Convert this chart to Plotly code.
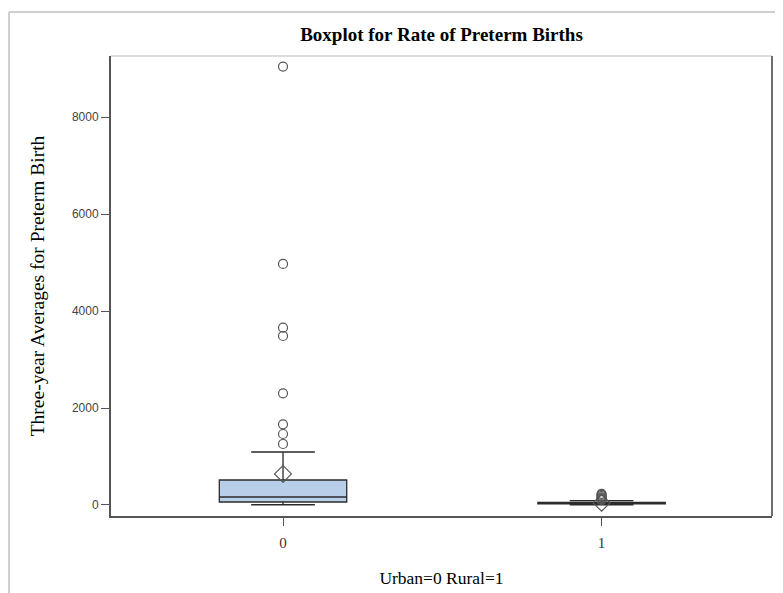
import plotly.graph_objects as go

# ---- data ----
groups = [0, 1]
q1 = [62, 22]
median = [165, 35]
q3 = [515, 52]
lower_whisker = [5, 4]
upper_whisker = [1093, 92]
means = [640, 45]
outliers_urban = [9040, 4970, 3656, 3485, 2303, 1664, 1464, 1258]
outliers_rural = [100, 120, 140, 160, 185, 210, 230]
tick_vals_y = [0, 2000, 4000, 6000, 8000]

SERIF = "Liberation Serif, Times New Roman, serif"
SANS = "Liberation Sans, Arial, sans-serif"

# The page body has an 8px default margin; work in page pixels and shift.
OFF = 8
FW, FH = 783 - OFF, 593 - OFF

fig = go.Figure()

fig.add_trace(go.Box(
    x=groups, q1=q1, median=median, q3=q3,
    lowerfence=lower_whisker, upperfence=upper_whisker,
    width=0.4, whiskerwidth=0.5,
    fillcolor="#B8CFEA",
    line=dict(color="#2b2b2b", width=1.3),
    boxpoints=False, hoverinfo="skip", showlegend=False,
))

fig.add_trace(go.Scatter(
    x=[0] * len(outliers_urban) + [1] * len(outliers_rural),
    y=outliers_urban + outliers_rural,
    mode="markers",
    marker=dict(symbol="circle-open", size=9, color="#555555", line=dict(width=1.2)),
    showlegend=False, hoverinfo="skip",
))

fig.add_trace(go.Scatter(
    x=groups, y=means, mode="markers",
    marker=dict(symbol="diamond-open", size=13, color="#555555", line=dict(width=1.2)),
    showlegend=False, hoverinfo="skip",
))

# plot-area geometry in page pixels
L, R, T, B = 111, 772, 56, 516
W, H = R - L, B - T
def px(x): return (x - L) / W
def py(y): return (B - y) / H

shapes = [
    dict(type="line", xref="paper", yref="paper", x0=px(9), x1=px(800), y0=py(12), y1=py(12),
         line=dict(color="#cfcfcf", width=2)),
    dict(type="line", xref="paper", yref="paper", x0=px(9), x1=px(9), y0=py(12), y1=py(620),
         line=dict(color="#cfcfcf", width=2)),
    dict(type="line", xref="paper", yref="paper", x0=0, x1=1, y0=1, y1=1,
         line=dict(color="#dcdcdc", width=2)),
    dict(type="line", xref="paper", yref="paper", x0=1, x1=1, y0=0, y1=1,
         line=dict(color="#6e6e6e", width=2)),
]

fig.update_layout(
    width=FW, height=FH,
    margin=dict(l=L - OFF, r=783 - R, t=T - OFF, b=593 - B),
    paper_bgcolor="white", plot_bgcolor="white",
    title=dict(text="<b>Boxplot for Rate of Preterm Births</b>",
               font=dict(family=SERIF, size=19, color="#000000"),
               x=((L + R) / 2 - OFF) / FW, xanchor="center",
               y=1 - (34 - OFF) / FH, yanchor="middle"),
    xaxis=dict(range=[-0.54, 1.535], tickvals=groups, ticktext=[str(g) for g in groups],
               automargin=False,
               showline=True, linecolor="#555555", linewidth=2,
               ticks="outside", ticklen=8, tickcolor="#555555", tickwidth=1,
               ticklabelstandoff=4,
               showgrid=False, zeroline=False,
               tickfont=dict(family=SERIF, size=15, color="#333333"),
               title=dict(text="Urban=0 Rural=1", font=dict(family=SERIF, size=17.5, color="#000000"),
                          standoff=22)),
    yaxis=dict(range=[-227, 9258], tickvals=tick_vals_y,
               automargin=False,
               showline=True, linecolor="#555555", linewidth=2,
               ticks="outside", ticklen=8, tickcolor="#555555", tickwidth=1,
               showgrid=False, zeroline=False,
               tickfont=dict(family=SANS, size=12, color="#444444"),
               title=dict(text="Three-year Averages for Preterm Birth",
                          font=dict(family=SERIF, size=19.5, color="#000000"), standoff=22)),
    shapes=shapes,
)

fig.write_html("out.html")
